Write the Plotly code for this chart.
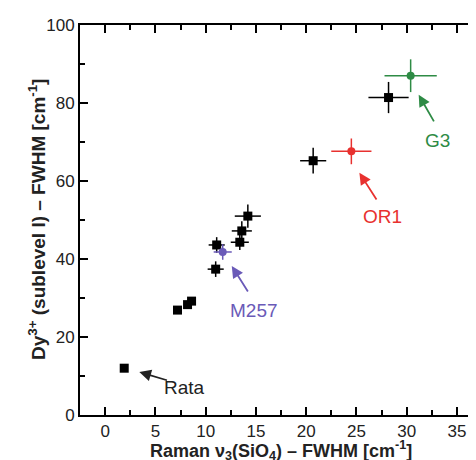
import plotly.graph_objects as go

# Data
x_black = [1.9, 7.2, 8.2, 8.6, 11.0, 11.1, 13.4, 13.6, 14.2, 20.7, 28.2]
y_black = [12.0, 26.9, 28.3, 29.2, 37.4, 43.6, 44.3, 47.2, 51.0, 65.2, 81.4]
xerr_black = [0.0, 0.3, 0.3, 0.3, 0.8, 0.8, 0.9, 1.0, 1.3, 1.3, 2.0]
yerr_black = [0.0, 0.8, 0.8, 0.8, 2.0, 2.0, 2.0, 2.5, 3.0, 3.3, 4.0]

labels = ["M257", "OR1", "G3"]
x_col = [11.7, 24.5, 30.4]
y_col = [41.8, 67.6, 87.0]
xerr_col = [0.9, 2.0, 2.6]
yerr_col = [2.0, 3.3, 4.2]
colors = ["#6a5ab8", "#e8312f", "#2e8b45"]

# annotation positions: (label, text x, text y, arrow tip x, tip y, tail x, tail y, color)
ann = [
    ("Rata", 7.9, 7.0, 3.4, 11.0, 6.3, 8.8, "#222222"),
    ("M257", 14.8, 26.9, 12.6, 38.2, 14.3, 31.3, colors[0]),
    ("OR1", 27.6, 51.0, 25.3, 62.1, 27.1, 54.9, colors[1]),
    ("G3", 33.1, 70.3, 31.2, 82.1, 32.8, 74.9, colors[2]),
]

font = "Liberation Sans, Arial, sans-serif"

fig = go.Figure()
fig.add_trace(go.Scatter(
    x=x_black, y=y_black, mode="markers",
    marker=dict(symbol="square", size=9, color="black"),
    error_x=dict(type="data", array=xerr_black, color="black", thickness=1.5, width=0),
    error_y=dict(type="data", array=yerr_black, color="black", thickness=1.5, width=0),
    showlegend=False,
))
for i in range(len(labels)):
    fig.add_trace(go.Scatter(
        x=[x_col[i]], y=[y_col[i]], mode="markers", name=labels[i],
        marker=dict(symbol="circle", size=8, color=colors[i]),
        error_x=dict(type="data", array=[xerr_col[i]], color=colors[i], thickness=1.5, width=0),
        error_y=dict(type="data", array=[yerr_col[i]], color=colors[i], thickness=1.5, width=0),
        showlegend=False,
    ))

for (t, tx, ty, hx, hy, sx, sy, c) in ann:
    fig.add_annotation(x=hx, y=hy, ax=sx, ay=sy, xref="x", yref="y", axref="x", ayref="y",
                       text="", showarrow=True, arrowhead=2, arrowsize=1.3, arrowwidth=1.8,
                       arrowcolor=c)
    fig.add_annotation(x=tx, y=ty, xref="x", yref="y", text=t, showarrow=False,
                       font=dict(family=font, size=19, color=c))

# axis titles as annotations for precise placement
fig.add_annotation(x=0, y=0.5, xref="paper", yref="paper", xanchor="center", yanchor="middle",
                   xshift=-43, textangle=-90, showarrow=False,
                   text="<b>Dy<sup>3+</sup> (sublevel I) – FWHM [cm<sup>-1</sup>]</b>",
                   font=dict(family=font, size=19, color="#222222"))
fig.add_annotation(x=0.5, y=0, xref="paper", yref="paper", xanchor="center", yanchor="middle",
                   yshift=-35, showarrow=False,
                   text="<b>Raman ν<sub>3</sub>(SiO<sub>4</sub>) – FWHM [cm<sup>-1</sup>]</b>",
                   font=dict(family=font, size=18, color="#222222"))

axis_common = dict(
    showgrid=False, zeroline=False, showline=True, linecolor="black", linewidth=2,
    mirror="ticks", ticks="inside", ticklen=8, tickwidth=1.5, tickcolor="black",
    tickfont=dict(family=font, size=17, color="#222222"),
)
fig.update_xaxes(range=[-2.5, 37.4], dtick=5, tick0=0,
                 minor=dict(ticks="inside", dtick=2.5, ticklen=5, tickwidth=1.5, tickcolor="black"),
                 **axis_common)
fig.update_yaxes(range=[0, 100], dtick=20,
                 minor=dict(ticks="inside", dtick=10, ticklen=5, tickwidth=1.5, tickcolor="black"),
                 **axis_common)
fig.update_layout(width=476, height=460, margin=dict(l=72, r=1, t=17, b=53),
                  plot_bgcolor="white", paper_bgcolor="white")
fig.write_html("out.html")
